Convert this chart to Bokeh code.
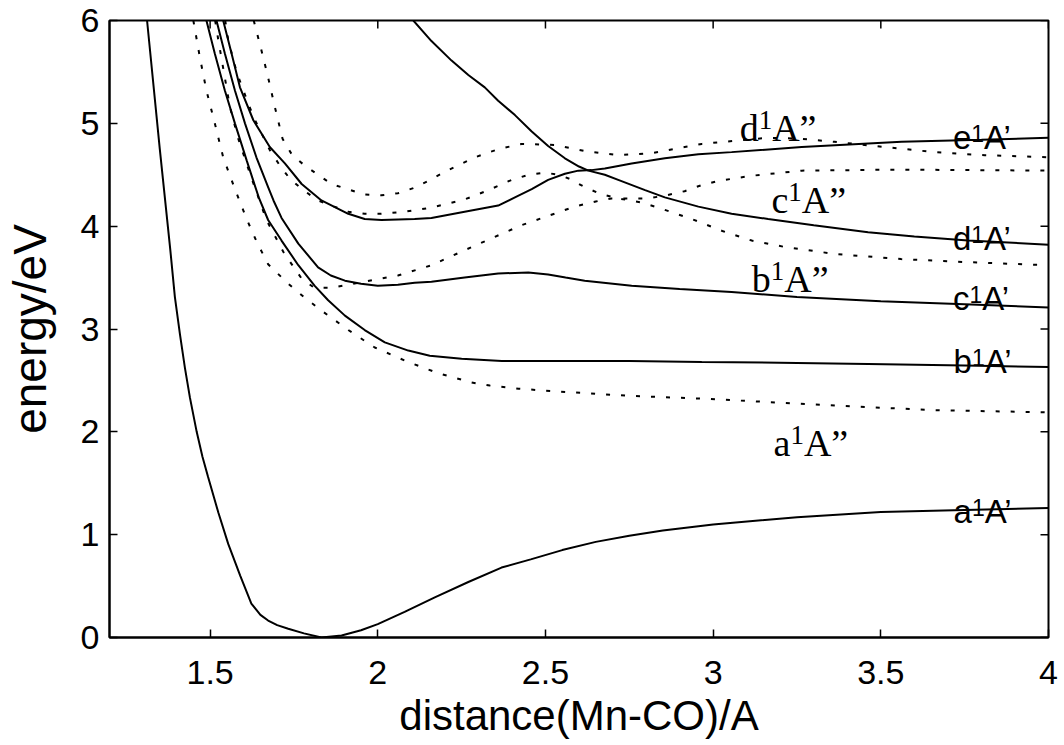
import math
from bokeh.plotting import figure
from bokeh.models import Range1d, FixedTicker, CustomJSTickFormatter, ColumnDataSource
from bokeh.embed import file_html
from bokeh.resources import INLINE
from bokeh.core.properties import value

# ---------------- data ----------------
# solid curves (A' states)
a1Ap_x = [1.312, 1.35, 1.381, 1.395, 1.41, 1.425, 1.44, 1.46, 1.477, 1.494, 1.525, 1.554, 1.59, 1.623, 1.65,
          1.673, 1.70, 1.733, 1.78, 1.832, 1.892, 1.95, 2.0, 2.08, 2.17, 2.27, 2.369, 2.456, 2.55, 2.65,
          2.75, 2.85, 3.0, 3.25, 3.5, 3.75, 4.0]
a1Ap_y = [6.0, 4.75, 3.78, 3.31, 2.95, 2.62, 2.33, 2.00, 1.76, 1.56, 1.21, 0.91, 0.60, 0.33, 0.22,
          0.165, 0.12, 0.085, 0.04, 0.0, 0.02, 0.07, 0.13, 0.25, 0.39, 0.54, 0.68, 0.76, 0.85, 0.93,
          0.99, 1.04, 1.10, 1.17, 1.22, 1.24, 1.26]

b1Ap_x = [1.489, 1.514, 1.544, 1.574, 1.609, 1.645, 1.673, 1.713, 1.763, 1.812, 1.852, 1.902, 1.961, 2.021,
          2.091, 2.155, 2.25, 2.37, 2.5, 2.75, 2.966, 3.25, 3.462, 3.75, 4.0]
b1Ap_y = [6.0, 5.68, 5.32, 5.0, 4.64, 4.28, 4.06, 3.86, 3.62, 3.42, 3.28, 3.13, 2.99, 2.87,
          2.79, 2.74, 2.71, 2.69, 2.69, 2.69, 2.68, 2.67, 2.66, 2.645, 2.63]

c1Ap_x = [1.519, 1.544, 1.574, 1.604, 1.638, 1.673, 1.689, 1.713, 1.763, 1.822, 1.86, 1.902, 1.95, 2.0,
          2.06, 2.11, 2.16, 2.259, 2.359, 2.449, 2.508, 2.56, 2.617, 2.757, 2.9, 3.055, 3.25, 3.5, 3.75, 4.0]
c1Ap_y = [6.0, 5.68, 5.32, 5.0, 4.67, 4.38, 4.25, 4.08, 3.83, 3.60, 3.52, 3.47, 3.44, 3.42,
          3.43, 3.45, 3.46, 3.50, 3.54, 3.55, 3.53, 3.50, 3.47, 3.42, 3.39, 3.36, 3.31, 3.27, 3.24, 3.21]

d1Ap_x = [2.106, 2.16, 2.22, 2.27, 2.319, 2.359, 2.409, 2.459, 2.508, 2.558, 2.60, 2.628, 2.677, 2.717,
          2.797, 2.856, 2.956, 3.055, 3.164, 3.3, 3.462, 3.6, 3.76, 4.0]
d1Ap_y = [6.0, 5.80, 5.61, 5.47, 5.35, 5.22, 5.08, 4.92, 4.78, 4.66, 4.58, 4.54, 4.50, 4.45,
          4.35, 4.28, 4.19, 4.12, 4.07, 4.01, 3.94, 3.90, 3.86, 3.82]

e1Ap_x = [1.539, 1.564, 1.589, 1.629, 1.678, 1.723, 1.773, 1.832, 1.912, 1.961, 2.011, 2.11, 2.16, 2.259,
          2.359, 2.409, 2.459, 2.508, 2.558, 2.598, 2.637, 2.677, 2.757, 2.856, 2.956, 3.055, 3.264, 3.562,
          3.8, 4.0]
e1Ap_y = [6.0, 5.68, 5.35, 5.03, 4.77, 4.61, 4.41, 4.25, 4.12, 4.07, 4.06, 4.07, 4.08, 4.14,
          4.20, 4.28, 4.36, 4.45, 4.51, 4.54, 4.545, 4.56, 4.61, 4.66, 4.70, 4.72, 4.77, 4.82,
          4.84, 4.86]

# dotted curves (A'' states)
a1App_x = [1.45, 1.469, 1.489, 1.514, 1.539, 1.574, 1.609, 1.64, 1.673, 1.733, 1.78, 1.832, 1.912, 1.991,
           2.09, 2.18, 2.28, 2.334, 2.42, 2.5, 2.75, 2.986, 3.338, 3.66, 4.0]
a1App_y = [6.0, 5.65, 5.32, 5.0, 4.67, 4.36, 4.07, 3.84, 3.63, 3.44, 3.31, 3.18, 2.99, 2.82,
           2.68, 2.57, 2.48, 2.45, 2.42, 2.40, 2.35, 2.32, 2.26, 2.21, 2.19]

b1App_x = [1.545, 1.554, 1.579, 1.614, 1.634, 1.678, 1.708, 1.738, 1.778, 1.822, 1.87, 1.912, 1.961, 2.01,
           2.08, 2.16, 2.259, 2.33, 2.399, 2.45, 2.498, 2.54, 2.572, 2.617, 2.667, 2.717, 2.786, 2.836,
           2.936, 3.03, 3.115, 3.21, 3.362, 3.56, 3.76, 4.0]
b1App_y = [6.0, 5.81, 5.50, 5.19, 5.03, 4.74, 4.59, 4.46, 4.35, 4.25, 4.19, 4.14, 4.12, 4.12,
           4.14, 4.18, 4.26, 4.35, 4.45, 4.50, 4.52, 4.50, 4.46, 4.38, 4.31, 4.27, 4.23, 4.18,
           4.07, 3.95, 3.86, 3.80, 3.73, 3.68, 3.65, 3.62]

c1App_x = [1.515, 1.524, 1.559, 1.584, 1.62, 1.668, 1.72, 1.773, 1.811, 1.862, 1.91, 1.96, 2.06, 2.16,
           2.289, 2.429, 2.587, 2.65, 2.697, 2.75, 2.807, 2.86, 2.915, 2.966, 3.015, 3.115, 3.264, 3.56, 4.0]
c1App_y = [6.0, 5.82, 5.16, 4.85, 4.50, 4.06, 3.74, 3.49, 3.40, 3.40, 3.43, 3.46, 3.52, 3.62,
           3.81, 4.01, 4.19, 4.24, 4.27, 4.27, 4.27, 4.30, 4.34, 4.40, 4.44, 4.49, 4.54, 4.55, 4.54]

d1App_x = [1.630, 1.650, 1.672, 1.693, 1.716, 1.745, 1.782, 1.862, 1.957, 2.011, 2.06, 2.106, 2.15, 2.195,
           2.29, 2.36, 2.429, 2.528, 2.617, 2.717, 2.816, 2.915, 2.966, 3.064, 3.164, 3.264, 3.362,
           3.511, 3.66, 3.81, 4.0]
d1App_y = [6.0, 5.75, 5.46, 5.16, 4.85, 4.69, 4.59, 4.41, 4.31, 4.30, 4.32, 4.37, 4.44, 4.52,
           4.67, 4.75, 4.80, 4.79, 4.73, 4.69, 4.71, 4.77, 4.80, 4.83, 4.86, 4.85, 4.82,
           4.77, 4.72, 4.69, 4.67]

solid_curves = [(a1Ap_x, a1Ap_y), (b1Ap_x, b1Ap_y), (c1Ap_x, c1Ap_y), (d1Ap_x, d1Ap_y), (e1Ap_x, e1Ap_y)]
dotted_curves = [(a1App_x, a1App_y), (b1App_x, b1App_y), (c1App_x, c1App_y), (d1App_x, d1App_y)]

# state labels
sans_letters = ["e", "d", "c", "b", "a"]
sans_lab_x = [3.715, 3.715, 3.715, 3.717, 3.717]
sans_lab_y = [4.86, 3.88, 3.30, 2.68, 1.225]

serif_letters = ["d", "c", "b", "a"]
serif_lab_x = [3.079, 3.174, 3.115, 3.180]
serif_lab_y = [4.95, 4.25, 3.49, 1.89]

x_ticks = [1.5, 2, 2.5, 3, 3.5, 4]
y_ticks = [0, 1, 2, 3, 4, 5, 6]
X_MIN, X_MAX, Y_MIN, Y_MAX = 1.2, 4.0, 0, 6

x_title = "distance(Mn-CO)/A"
y_title = "energy/eV"

# ---------------- figure ----------------
p = figure(width=1064, height=745, output_backend="svg", toolbar_location=None,
           x_range=Range1d(X_MIN, X_MAX), y_range=Range1d(Y_MIN, Y_MAX),
           min_border_left=108, min_border_right=16, min_border_top=20, min_border_bottom=108,
           x_axis_label=x_title, y_axis_label=y_title)
p.grid.visible = False
p.background_fill_color = "white"
p.border_fill_color = "white"
p.outline_line_color = "black"
p.outline_line_width = 2

fmt = CustomJSTickFormatter(code="return String(tick);")

p.xaxis.ticker = FixedTicker(ticks=x_ticks)
p.yaxis.ticker = FixedTicker(ticks=y_ticks)
for ax in (p.xaxis[0], p.yaxis[0]):
    ax.formatter = fmt
    ax.major_label_text_font = "Liberation Sans"
    ax.major_label_text_font_size = "34px"
    ax.major_label_text_color = "black"
    ax.axis_label_text_font = "Liberation Sans"
    ax.axis_label_text_font_style = "normal"
    ax.axis_label_text_color = "black"
    ax.axis_line_width = 2
    ax.axis_line_color = "black"
    ax.major_tick_in = 8
    ax.major_tick_out = 0
    ax.major_tick_line_width = 1.5
    ax.minor_tick_line_color = None
p.xaxis.axis_label_text_font_size = "42px"
p.yaxis.axis_label_text_font_size = "46px"
p.xaxis.major_label_standoff = 23
p.xaxis.axis_label_standoff = 5
p.yaxis.major_label_standoff = 10
p.yaxis.axis_label_standoff = 22

# inward ticks on the top and right frame edges
p.ray(x=x_ticks, y=[Y_MAX] * len(x_ticks), length=8, length_units="screen",
      angle=-math.pi / 2, line_color="black", line_width=1.5)
p.ray(x=[X_MAX] * len(y_ticks), y=y_ticks, length=8, length_units="screen",
      angle=math.pi, line_color="black", line_width=1.5)

for xs, ys in solid_curves:
    p.line(xs, ys, line_color="black", line_width=2)
for xs, ys in dotted_curves:
    p.line(xs, ys, line_color="black", line_width=2, line_dash="4 11")

# state labels, built from pieces: letter, raised small "1", then A' / A''
SANS_W = {"a": 0.556, "b": 0.556, "c": 0.5, "d": 0.556, "e": 0.556}
SERIF_W = {"a": 0.444, "b": 0.5, "c": 0.444, "d": 0.5}


def add_label(letters, xs, ys, font, size, sup_size, widths, digit_w, tail, raise_px):
    n = len(letters)
    off1 = [widths[l] * size for l in letters]
    off2 = [o + digit_w * sup_size for o in off1]
    common = dict(text_font=value(font), text_color="black", text_align="left",
                  text_baseline="alphabetic")
    src1 = ColumnDataSource(dict(x=xs, y=ys, t=letters))
    p.text("x", "y", text="t", source=src1, text_font_size=f"{size}px", **common)
    src2 = ColumnDataSource(dict(x=xs, y=ys, t=["1"] * n, xo=off1))
    p.text("x", "y", text="t", source=src2, x_offset="xo", y_offset=-raise_px,
           text_font_size=f"{sup_size}px", **common)
    src3 = ColumnDataSource(dict(x=xs, y=ys, t=[tail] * n, xo=off2))
    p.text("x", "y", text="t", source=src3, x_offset="xo",
           text_font_size=f"{size}px", **common)


add_label(sans_letters, sans_lab_x, sans_lab_y, "Liberation Sans", 33, 23, SANS_W, 0.556, "A\u2019", 4)
add_label(serif_letters, serif_lab_x, serif_lab_y, "Liberation Serif", 38, 27, SERIF_W, 0.5, "A\u201d", 8)

open("out.html", "w").write(file_html(p, INLINE))
